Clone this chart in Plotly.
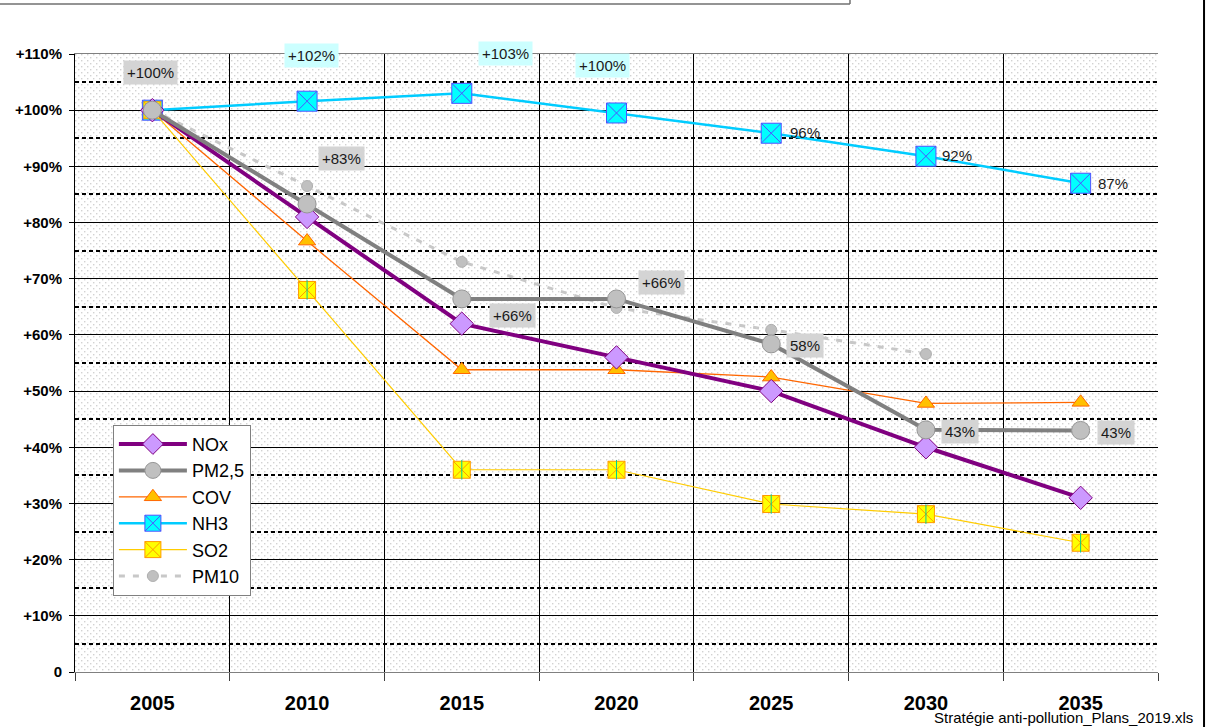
import base64

import plotly.graph_objects as go

# ---- data (index 2005 = 100 %) ----
years = [2005, 2010, 2015, 2020, 2025, 2030, 2035]

nox = [100, 81, 62, 56, 50, 40, 31]
pm25 = [100, 83.3, 66.4, 66.4, 58.4, 43.1, 43]
cov = [100, 76.7, 53.8, 53.8, 52.5, 47.8, 48]
nh3 = [100, 101.6, 103, 99.5, 95.9, 91.8, 87]
so2 = [100, 68, 36, 36, 29.9, 28.1, 23]
pm10 = [100, 86.5, 73, 64.8, 60.9, 56.6, None]

pm25_labels = ["+100%", "+83%", "+66%", "+66%", "58%", "43%", "43%"]
nh3_labels = [None, "+102%", "+103%", "+100%", "96%", "92%", "87%"]

y_ticks = [0, 10, 20, 30, 40, 50, 60, 70, 80, 90, 100, 110]
y_ticktext = ["0", "+10%", "+20%", "+30%", "+40%", "+50%", "+60%",
              "+70%", "+80%", "+90%", "+100%", "+110%"]

source_text = "Stratégie anti-pollution_Plans_2019.xls"

FONT = "Liberation Sans, Arial, sans-serif"

fig = go.Figure()

# draw order chosen so overlaps at 2005 look like the original
series = [
    # name, values, line, marker, legend rank
    ("NH3", nh3, dict(color="#00ccff", width=2.5),
     dict(symbol="square-x", size=20, color="#00ffff", line=dict(color="#5050ff", width=1)), 4),
    ("SO2", so2, dict(color="#ffcc00", width=1.2),
     dict(symbol="square-x", size=17, color="#ffff00", line=dict(color="#ff9900", width=1)), 5),
    ("COV", cov, dict(color="#ff6600", width=1.3),
     dict(symbol="triangle-up", size=15, color="#ffc000", line=dict(color="#ff6600", width=1)), 3),
    ("PM10", pm10, dict(color="#c8c8c8", width=3, dash="6px,8px"),
     dict(symbol="circle", size=11, color="#c0c0c0", line=dict(color="#b0b0b0", width=1)), 6),
    ("NOx", nox, dict(color="#800080", width=4),
     dict(symbol="diamond", size=18, color="#cc99ff", line=dict(color="#800080", width=1)), 1),
    ("PM2,5", pm25, dict(color="#808080", width=4),
     dict(symbol="circle", size=18, color="#c0c0c0", line=dict(color="#969696", width=1)), 2),
]
for name, vals, line, marker, rank in series:
    fig.add_trace(go.Scatter(
        x=years, y=vals, name=name, mode="lines+markers",
        line=line, marker=marker, legendrank=rank,
    ))
    if name == "SO2":
        # vertical stroke so the X reads as the Excel asterisk
        fig.add_trace(go.Scatter(
            x=years, y=vals, mode="markers", showlegend=False, hoverinfo="skip",
            marker=dict(symbol="line-ns-open", size=14, line=dict(color="#ff9900", width=1)),
        ))

# data labels: PM2,5 on grey boxes, NH3 on light cyan boxes (later ones plain)
pm25_off = [(-2, -38), (34, -46), (51, 17), (45, -16), (34, 2), (34, 2), (35, 2)]
for yr, v, txt, (dx, dy) in zip(years, pm25, pm25_labels, pm25_off):
    fig.add_annotation(x=yr, y=v, text=txt, showarrow=False, xshift=dx, yshift=-dy,
                       bgcolor="#d4d4d4", borderpad=3,
                       font=dict(family=FONT, size=15, color="#1a1a1a"))

nh3_off = [(0, 0), (4, -46), (44, -40), (-14, -47), (34, -1), (31, -1), (32, 0)]
for i, (yr, v, txt, (dx, dy)) in enumerate(zip(years, nh3, nh3_labels, nh3_off)):
    if txt is None:
        continue
    fig.add_annotation(x=yr, y=v, text=txt, showarrow=False, xshift=dx, yshift=-dy,
                       bgcolor="#ccffff" if i <= 3 else "rgba(0,0,0,0)", borderpad=3,
                       font=dict(family=FONT, size=15, color="#1a1a1a"))

# source note bottom right (sits under the last year labels, as in the original)
fig.add_annotation(xref="paper", yref="paper", x=1.034, y=-0.0744, text=source_text,
                   showarrow=False, xanchor="right", yanchor="middle",
                   font=dict(family=FONT, size=15, color="black"))

# dotted plot-area fill (Excel style pattern)
svg = ('<svg xmlns="http://www.w3.org/2000/svg" width="1083" height="618">'
       '<defs><pattern id="d" width="6" height="6" patternUnits="userSpaceOnUse">'
       '<rect x="0" y="0" width="1.4" height="1.4" fill="#d2d2d2"/>'
       '<rect x="3" y="3" width="1.4" height="1.4" fill="#d2d2d2"/></pattern></defs>'
       '<rect width="100%" height="100%" fill="white"/>'
       '<rect width="100%" height="100%" fill="url(#d)"/></svg>')
fig.add_layout_image(
    source="data:image/svg+xml;base64," + base64.b64encode(svg.encode()).decode(),
    xref="paper", yref="paper", x=0, y=1, sizex=1, sizey=1,
    xanchor="left", yanchor="top", sizing="stretch", layer="below",
)

# frame bits outside the plot: title box edge top-left, border line on the right
fig.add_shape(type="line", xref="paper", yref="paper", x0=-0.08, x1=0.7156, y0=1.081, y1=1.081,
              line=dict(color="#707070", width=1.5))
fig.add_shape(type="line", xref="paper", yref="paper", x0=0.7156, x1=0.7156, y0=1.081, y1=1.1,
              line=dict(color="#707070", width=1.5))
fig.add_shape(type="line", xref="paper", yref="paper", x0=1.0425, x1=1.0425, y0=-0.1, y1=1.1,
              line=dict(color="black", width=2))

fig.update_layout(
    width=1210, height=727,
    margin=dict(l=75, r=52, t=54, b=55),
    paper_bgcolor="white", plot_bgcolor="rgba(0,0,0,0)",
    font=dict(family=FONT, color="black"),
    legend=dict(x=0.035, y=0.40, xanchor="left", yanchor="top",
                bgcolor="white", bordercolor="#808080", borderwidth=1,
                font=dict(family=FONT, size=18, color="black"),
                itemwidth=68, tracegroupgap=0),
    xaxis=dict(
        range=[2002.5, 2037.5], tickmode="array", tickvals=years,
        ticktext=[str(y) for y in years], ticks="", showgrid=False, zeroline=False,
        tickfont=dict(family=FONT, size=20, color="black", weight="bold"),
        ticklabelstandoff=13,
        showline=True, linecolor="#808080", linewidth=1, mirror=True,
        minor=dict(tick0=2002.5, dtick=5, ticks="outside", ticklen=8,
                   tickcolor="#404040", showgrid=True, gridcolor="black", gridwidth=1),
    ),
    yaxis=dict(
        range=[0, 110], tickmode="array", tickvals=y_ticks, ticktext=y_ticktext,
        ticks="outside", ticklen=5, tickcolor="black", ticklabelstandoff=4,
        showgrid=True, gridcolor="black", gridwidth=1, zeroline=False,
        tickfont=dict(family=FONT, size=15, color="black", weight="bold"),
        showline=True, linecolor="black", linewidth=1,
        minor=dict(tickmode="linear", tick0=5, dtick=10, ticks="",
                   showgrid=True, gridcolor="black", gridwidth=2, griddash="4px,3px"),
    ),
)

# the page's default 8px body margin would shift the whole chart
fig.write_html("out.html", config={"displayModeBar": False},
               post_script="document.body.style.margin='0';")
